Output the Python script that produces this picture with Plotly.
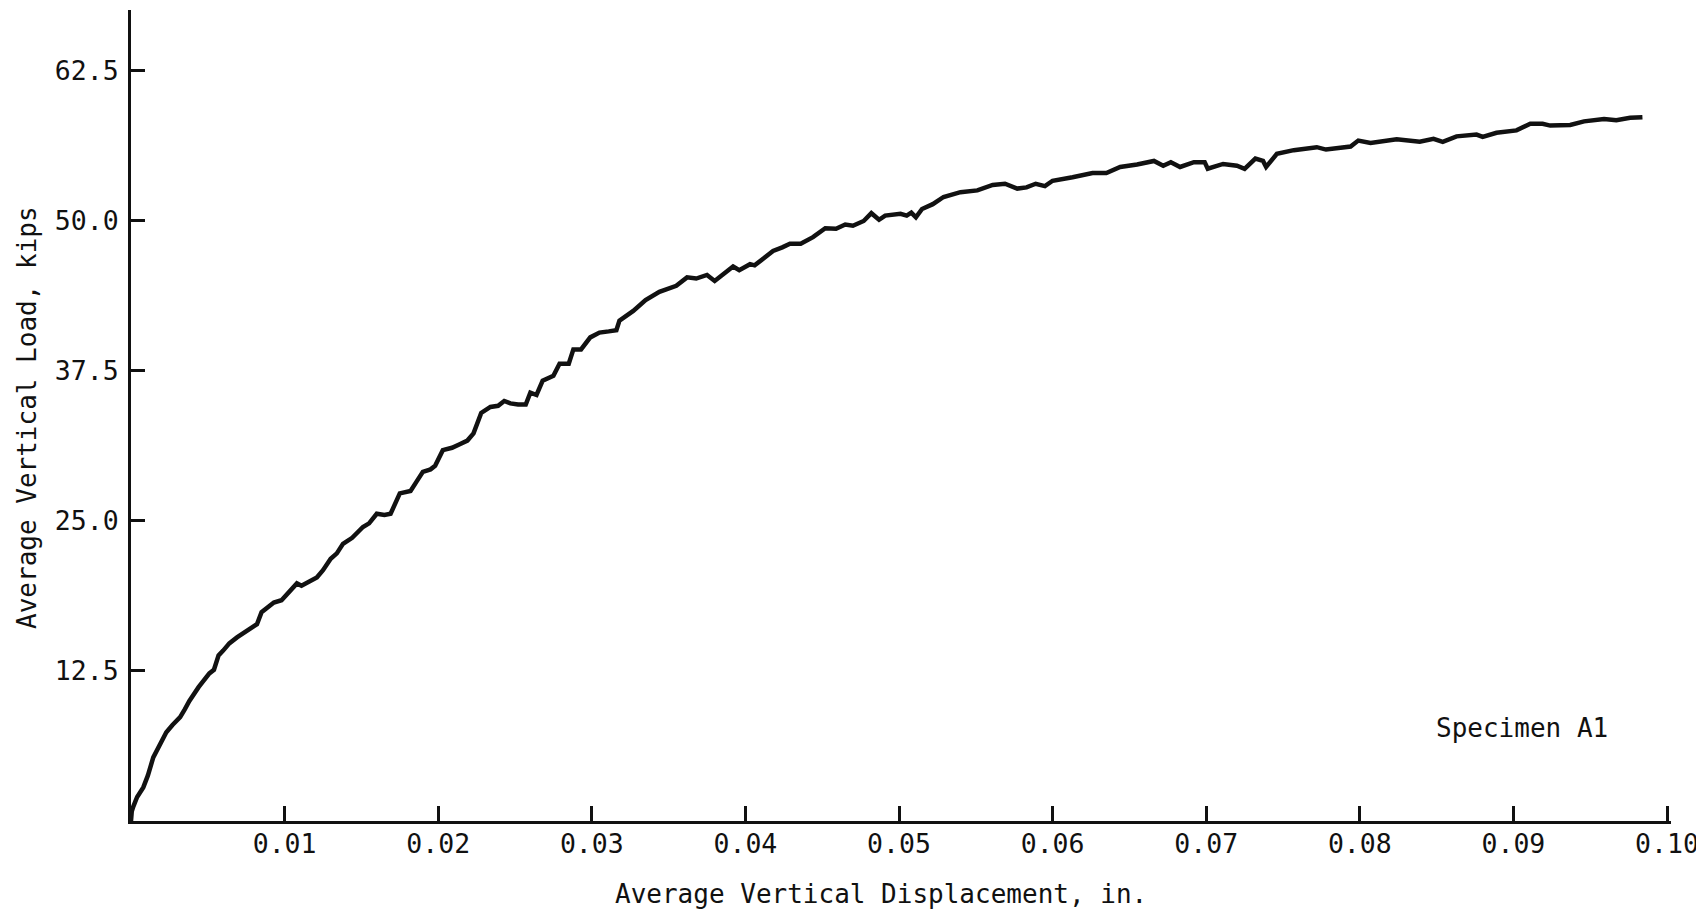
import plotly.graph_objects as go

# Data (Specimen A1)
displacement_in = [
    0.0000, 0.00005, 0.00015, 0.0004, 0.0008, 0.0011, 0.00145, 0.0016, 0.0019, 0.0023,
    0.0027, 0.0032, 0.0035, 0.0038, 0.0044, 0.0051, 0.0054, 0.0057, 0.0060, 0.0064,
    0.0069, 0.0074, 0.0082, 0.0085, 0.0089, 0.0093, 0.0098, 0.0103, 0.0108, 0.0111,
    0.0116, 0.0121, 0.0125, 0.0130, 0.0134, 0.0138, 0.0144, 0.0151, 0.0155, 0.0160,
    0.0165, 0.0169, 0.0175, 0.0182, 0.0186, 0.0190, 0.0195, 0.0198, 0.0203, 0.0209,
    0.0214, 0.0219, 0.0223, 0.0228, 0.0234, 0.0239, 0.0243, 0.0247, 0.0252, 0.0257,
    0.0260, 0.0264, 0.0268, 0.0275, 0.0279, 0.0285, 0.0288, 0.0293, 0.0299, 0.0305,
    0.0311, 0.0316, 0.0318, 0.0327, 0.0335, 0.0344, 0.0355, 0.0362, 0.0368, 0.0375,
    0.0380, 0.0386, 0.0392, 0.0396, 0.0403, 0.0406, 0.0412, 0.0418, 0.0424, 0.0429,
    0.0436, 0.0444, 0.0452, 0.0459, 0.0465, 0.0470, 0.0477, 0.0482, 0.0487, 0.0491,
    0.0501, 0.0505, 0.0508, 0.0511, 0.0515, 0.0522, 0.0529, 0.0540, 0.0551, 0.0561,
    0.0569, 0.0577, 0.0583, 0.0589, 0.0595, 0.0600, 0.0613, 0.0626, 0.0635, 0.0644,
    0.0655, 0.0666, 0.0672, 0.0677, 0.0683, 0.0692, 0.0699, 0.0701, 0.0711, 0.0720,
    0.0725, 0.0732, 0.0737, 0.0739, 0.0746, 0.0757, 0.0772, 0.0778, 0.0794, 0.0799,
    0.0807, 0.0824, 0.0839, 0.0848, 0.0854, 0.0863, 0.0876, 0.0880, 0.0889, 0.0902,
    0.0911, 0.0919, 0.0924, 0.0937, 0.0946, 0.0959, 0.0967, 0.0976, 0.0984,
]
load_kips = [
    0.0, 0.8, 1.2, 2.0, 2.8, 3.8, 5.3, 5.7, 6.4, 7.4,
    8.0, 8.65, 9.3, 10.0, 11.15, 12.3, 12.6, 13.8, 14.2, 14.8,
    15.3, 15.7, 16.4, 17.4, 17.8, 18.2, 18.4, 19.1, 19.8, 19.6,
    19.9, 20.3, 20.9, 21.85, 22.3, 23.1, 23.6, 24.5, 24.8, 25.6,
    25.5, 25.6, 27.3, 27.5, 28.3, 29.1, 29.3, 29.6, 30.9, 31.1,
    31.4, 31.7, 32.3, 34.0, 34.5, 34.6, 35.0, 34.8, 34.7, 34.7,
    35.7, 35.5, 36.7, 37.1, 38.1, 38.1, 39.3, 39.3, 40.3, 40.7,
    40.8, 40.9, 41.7, 42.5, 43.4, 44.1, 44.6, 45.3, 45.2, 45.5,
    45.0, 45.6, 46.2, 45.9, 46.4, 46.3, 46.9, 47.5, 47.8, 48.1,
    48.1, 48.65, 49.4, 49.35, 49.7, 49.6, 50.0, 50.65, 50.1, 50.45,
    50.6, 50.45, 50.7, 50.3, 51.0, 51.4, 52.0, 52.4, 52.55, 53.0,
    53.1, 52.7, 52.8, 53.1, 52.9, 53.35, 53.65, 54.0, 54.0, 54.5,
    54.7, 55.0, 54.6, 54.9, 54.5, 54.9, 54.9, 54.35, 54.75, 54.6,
    54.35, 55.2, 55.0, 54.5, 55.6, 55.9, 56.15, 55.95, 56.2, 56.7,
    56.5, 56.8, 56.6, 56.85, 56.6, 57.05, 57.2, 57.0, 57.35, 57.55,
    58.1, 58.1, 57.95, 58.0, 58.3, 58.5, 58.4, 58.6, 58.65,
]

x_tick_vals = [0.01, 0.02, 0.03, 0.04, 0.05, 0.06, 0.07, 0.08, 0.09, 0.10]
x_tick_text = ["0.01", "0.02", "0.03", "0.04", "0.05", "0.06", "0.07", "0.08", "0.09", "0.10"]
y_tick_vals = [12.5, 25.0, 37.5, 50.0, 62.5]
y_tick_text = ["12.5", "25.0", "37.5", "50.0", "62.5"]

x_title = "Average Vertical Displacement, in."
y_title = "Average Vertical Load, kips"
specimen_label = "Specimen A1"

FONT = "DejaVu Sans Mono, Liberation Mono, monospace"
INK = "#111111"

fig = go.Figure()
fig.add_trace(go.Scatter(
    x=displacement_in, y=load_kips, mode="lines",
    line=dict(color=INK, width=4.5),
    hoverinfo="skip", showlegend=False,
))

fig.update_layout(
    width=1696, height=907,
    margin=dict(l=123, r=33, t=2, b=94),
    paper_bgcolor="white", plot_bgcolor="white",
    font=dict(family=FONT, size=26, color=INK),
    showlegend=False,
    xaxis=dict(
        range=[0, 0.10026], showgrid=False, zeroline=False,
        showline=True, linecolor=INK, linewidth=3,
        ticks="inside", ticklen=15, tickwidth=2.5, tickcolor=INK,
        tickvals=x_tick_vals, ticktext=x_tick_text,
        tickfont=dict(family=FONT, size=26.5, color=INK),
        ticklabelstandoff=-3, ticklabeloverflow="allow",
    ),
    yaxis=dict(
        range=[0, 67.58], showgrid=False, zeroline=False,
        showline=True, linecolor=INK, linewidth=3,
        ticks="inside", ticklen=14, tickwidth=2.5, tickcolor=INK,
        tickvals=y_tick_vals, ticktext=y_tick_text,
        tickfont=dict(family=FONT, size=26.5, color=INK),
        ticklabelstandoff=4,
    ),
    annotations=[
        dict(text=x_title, xref="paper", yref="paper", x=0.487, y=-0.09,
             xanchor="center", yanchor="middle", showarrow=False,
             font=dict(family=FONT, size=26, color=INK)),
        dict(text=y_title, xref="paper", yref="paper", x=-0.0675, y=0.497,
             xanchor="center", yanchor="middle", textangle=-90, showarrow=False,
             font=dict(family=FONT, size=26, color=INK)),
        dict(text=specimen_label, xref="paper", yref="paper", x=0.903, y=0.1147,
             xanchor="center", yanchor="middle", showarrow=False,
             font=dict(family=FONT, size=26, color=INK)),
    ],
)

fig.write_html("out.html")
